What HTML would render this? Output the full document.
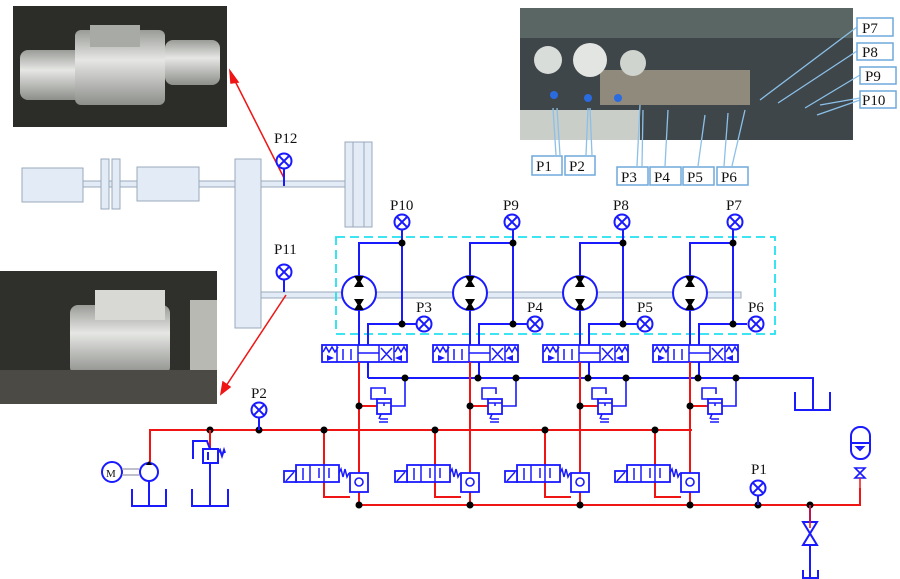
<!DOCTYPE html>
<html><head><meta charset="utf-8"><style>
html,body{margin:0;padding:0;background:#fff}
svg{display:block}
text{font-family:"Liberation Serif",serif;font-size:15px;fill:#111}
</style></head><body>
<svg width="900" height="579" viewBox="0 0 900 579" xmlns="http://www.w3.org/2000/svg">
<defs>
<linearGradient id="met" x1="0" y1="0" x2="0" y2="1"><stop offset="0" stop-color="#9a9c98"/><stop offset=".4" stop-color="#e6e7e4"/><stop offset="1" stop-color="#8d8f8b"/></linearGradient>
<g id="gauge"><circle r="7.5" fill="#fff" stroke="#1a1aff" stroke-width="2"/><path d="M-5.3,-5.3L5.3,5.3M5.3,-5.3L-5.3,5.3" stroke="#1a1aff" stroke-width="2"/></g>
<g id="branch" fill="none" stroke-width="2">
  <circle cx="0" cy="293" r="17" stroke="#1a1aff" fill="#fff"/>
  <polygon points="-5,287 5,287 0,279" fill="#000"/><polygon points="-5,276 5,276 0,284" fill="#000"/>
  <polygon points="-5,299 5,299 0,307" fill="#000"/><polygon points="-5,310 5,310 0,302" fill="#000"/>
  <path d="M0,276V243H43V324M43,324H57M43,324H9V378M43,243V230" stroke="#1a1aff"/>
  <path d="M0,310V362" stroke="#1a1aff"/>
  <rect x="-37" y="345" width="85" height="17" stroke="#1a1aff" stroke-width="1.8" fill="#fff"/>
  <path d="M-22,345V362M-1,345V362M20,345V362M35,345V362M-16,349V360M-8,349V360M-1,353H20M22,348L33,360M33,348L22,360M-36,352l3,-5l3,5l3,-5l3,5l3,-5M36,352l3,-5l3,5l3,-5l3,5" stroke="#1a1aff" stroke-width="1.5"/>
  <polygon points="-32,355 -25,358 -32,361" fill="#1a1aff"/><polygon points="43,355 36,358 43,361" fill="#1a1aff"/>
  <path d="M0,362V505" stroke="#f01515"/>
  <path d="M0,406H18" stroke="#f01515"/>
  <rect x="18" y="399" width="14" height="15" stroke="#1a1aff" stroke-width="1.8" fill="#fff"/>
  <path d="M18,403H32M25,403v3M18,399h-6v-11h14v6M46,378V406H32M21,419h8M20,422h9M22,414l-2,5" stroke="#1a1aff" stroke-width="1.6"/>
  <path d="M-35,430V465M-35,482V497H-9" stroke="#f01515"/>
  <rect x="-63" y="465" width="43" height="17" stroke="#1a1aff" stroke-width="1.8" fill="#fff"/>
  <rect x="-75" y="471" width="12" height="11" stroke="#1a1aff" stroke-width="1.8" fill="#fff"/>
  <path d="M-49,465V482M-35,465V482M-73,481l8,-9M-56,468V480M-40,468V478M-30,468V478M-20,473l2,-4l2,8l2,-8l2,8l2,-4" stroke="#1a1aff" stroke-width="1.5"/>
  <rect x="-9" y="473" width="18" height="19" stroke="#1a1aff" stroke-width="1.8" fill="#fff"/>
  <circle cx="0" cy="482" r="4" stroke="#1a1aff" stroke-width="1.6"/>
  <g fill="#000" stroke="none"><circle cx="43" cy="243" r="3.5"/><circle cx="43" cy="324" r="3.5"/><circle cx="46" cy="378" r="3.5"/><circle cx="0" cy="406" r="3.5"/><circle cx="-35" cy="430" r="3.5"/></g>
</g>
</defs>

<rect x="13" y="6" width="214" height="121" fill="#2c2c29"/>
<rect x="20" y="50" width="80" height="50" rx="8" fill="url(#met)"/>
<rect x="75" y="30" width="90" height="75" rx="6" fill="url(#met)"/>
<rect x="165" y="40" width="55" height="45" rx="8" fill="url(#met)"/>
<rect x="90" y="25" width="50" height="22" fill="#a8aaa6"/>

<rect x="0" y="271" width="217" height="133" fill="#2f2f2c"/>
<rect x="70" y="305" width="100" height="70" rx="8" fill="url(#met)"/>
<rect x="95" y="290" width="70" height="30" fill="#d8d8d4"/>
<rect x="190" y="300" width="27" height="104" fill="#b9b9b4"/>
<rect x="0" y="370" width="217" height="34" fill="#4b4a44"/>

<rect x="520" y="8" width="333" height="132" fill="#3e464a"/>
<rect x="520" y="8" width="333" height="30" fill="#5a6663"/>
<rect x="600" y="70" width="150" height="35" fill="#8f8a7c"/>
<circle cx="548" cy="60" r="14" fill="#d9ddd9"/><circle cx="590" cy="60" r="17" fill="#e2e5e2"/><circle cx="633" cy="63" r="13" fill="#cfd4cf"/>
<rect x="520" y="110" width="120" height="30" fill="#c9cec9"/>
<circle cx="554" cy="95" r="4" fill="#2a6be0"/><circle cx="588" cy="98" r="4" fill="#2a6be0"/><circle cx="618" cy="98" r="4" fill="#2a6be0"/>

<g fill="none" stroke="#8cc0e8" stroke-width="1.3">
<path d="M553,108L556,155M557,108L560,155M588,108L586,155M590,108L592,155M640,105L637,166M643,110L642,166M668,110L665,166M705,115L698,166M728,113L724,166M745,110L732,166M760,100L857,27M778,103L857,51M805,108L860,75M820,105L860,98M817,115L860,100"/>
</g>
<g fill="#fff" stroke="#6fa8dc" stroke-width="1.5">
<rect x="532" y="156" width="30" height="19"/><rect x="565" y="156" width="30" height="19"/>
<rect x="617" y="167" width="31" height="18"/><rect x="650" y="167" width="31" height="18"/><rect x="683" y="167" width="31" height="18"/><rect x="717" y="167" width="31" height="18"/>
<rect x="857" y="18" width="36" height="18"/><rect x="857" y="43" width="36" height="17"/><rect x="860" y="67" width="36" height="17"/><rect x="860" y="91" width="36" height="17"/>
</g>
<text x="536" y="171">P1</text><text x="569" y="171">P2</text>
<text x="621" y="182">P3</text><text x="654" y="182">P4</text><text x="687" y="182">P5</text><text x="721" y="182">P6</text>
<text x="862" y="33">P7</text><text x="862" y="57">P8</text><text x="865" y="81">P9</text><text x="862" y="105">P10</text>

<g fill="#e3ebf6" stroke="#9aa8bb" stroke-width="1">
<rect x="83" y="181" width="152" height="6"/>
<rect x="22" y="168" width="61" height="34"/>
<rect x="101" y="159" width="8" height="50"/><rect x="112" y="159" width="8" height="50"/>
<rect x="137" y="167" width="62" height="34"/>
<rect x="260" y="181" width="86" height="6"/>
<rect x="261" y="292" width="480" height="6"/>
<rect x="235" y="159" width="26" height="169"/>
<rect x="345" y="142" width="27" height="85"/>
<path d="M353,142V227M364,142V227"/>
</g>

<rect x="336" y="237" width="439" height="97" fill="none" stroke="#22e0f0" stroke-width="1.8" stroke-dasharray="9,5"/>

<g stroke="#f01515" stroke-width="1.5" fill="#f01515">
<path d="M284,178L234,79" fill="none"/><polygon points="230,71 238,82 231,83"/>
<path d="M286,295L226,386" fill="none"/><polygon points="221,394 223,382 230,387"/>
</g>
<path d="M284,168V186M284,279V292" stroke="#1a1aff" stroke-width="2"/>
<use href="#gauge" x="284" y="161"/><use href="#gauge" x="284" y="272"/>
<text x="274" y="143">P12</text><text x="274" y="254">P11</text>

<path d="M150,462V430H692" stroke="#f01515" stroke-width="2" fill="none"/>
<path d="M359,505H860V488" stroke="#f01515" stroke-width="2" fill="none"/>
<path d="M368,378H813V410" stroke="#1a1aff" stroke-width="2" fill="none"/>
<path d="M795,392V410H830V392" stroke="#1a1aff" stroke-width="2" fill="none"/>

<use href="#branch" x="359"/><use href="#branch" x="470"/><use href="#branch" x="580"/><use href="#branch" x="690"/>
<g fill="#000"><circle cx="478" cy="378" r="3.5"/><circle cx="588" cy="378" r="3.5"/><circle cx="698" cy="378" r="3.5"/>
<circle cx="210" cy="430" r="3.5"/><circle cx="259" cy="430" r="3.5"/><circle cx="359" cy="505" r="3.5"/><circle cx="470" cy="505" r="3.5"/><circle cx="580" cy="505" r="3.5"/><circle cx="690" cy="505" r="3.5"/><circle cx="758" cy="505" r="3.5"/><circle cx="810" cy="505" r="3.5"/></g>

<use href="#gauge" x="402" y="222"/><use href="#gauge" x="512" y="222"/><use href="#gauge" x="622" y="222"/><use href="#gauge" x="735" y="222"/>
<use href="#gauge" x="424" y="324"/><use href="#gauge" x="535" y="324"/><use href="#gauge" x="645" y="324"/><use href="#gauge" x="756" y="324"/>
<text x="390" y="210">P10</text><text x="503" y="210">P9</text><text x="613" y="210">P8</text><text x="726" y="210">P7</text>
<text x="416" y="312">P3</text><text x="527" y="312">P4</text><text x="637" y="312">P5</text><text x="748" y="312">P6</text>

<g fill="none" stroke="#1a1aff" stroke-width="2">
<circle cx="112" cy="472" r="10" fill="#fff"/>
<path d="M122,469H139M122,475H139" stroke="#aab" stroke-width="1.5"/>
<circle cx="149" cy="472" r="9" fill="#fff"/>
<path d="M149,481V506M132,489V506H166V489"/>
<path d="M210,430V449" stroke="#f01515"/>
<rect x="203" y="449" width="15" height="14" fill="#fff"/>
<path d="M210,463V506M192,489V506H228V489M193,459V441H207l3,8M208,452v8M218,453l2,-3l2,6l2,-6l1,3"/>
<path d="M259,430V417"/>
</g>
<text x="106" y="477" style="font-size:11px">M</text>
<polygon points="146,465 152,465 149,461" fill="#000"/>
<use href="#gauge" x="259" y="410"/><text x="251" y="398">P2</text>

<path d="M758,505V495" stroke="#1a1aff" stroke-width="2"/>
<use href="#gauge" x="758" y="488"/><text x="751" y="474">P1</text>
<g fill="none" stroke="#1a1aff" stroke-width="2">
<path d="M810,505V522M810,545V578M803,570V578H818V570"/>
<polygon points="803,522 817,522 803,545 817,545" fill="#fff"/>
<rect x="851" y="427" width="19" height="32" rx="9" fill="#fff"/>
<path d="M851,443H870M857,447h6l-3,3z"/>
<path d="M855,468h10l-10,10h10z" stroke-width="1.6"/>
</g>
<path d="M860,478V505M810,505V528" stroke="#f01515" stroke-width="1.5"/>
</svg>
</body></html>
